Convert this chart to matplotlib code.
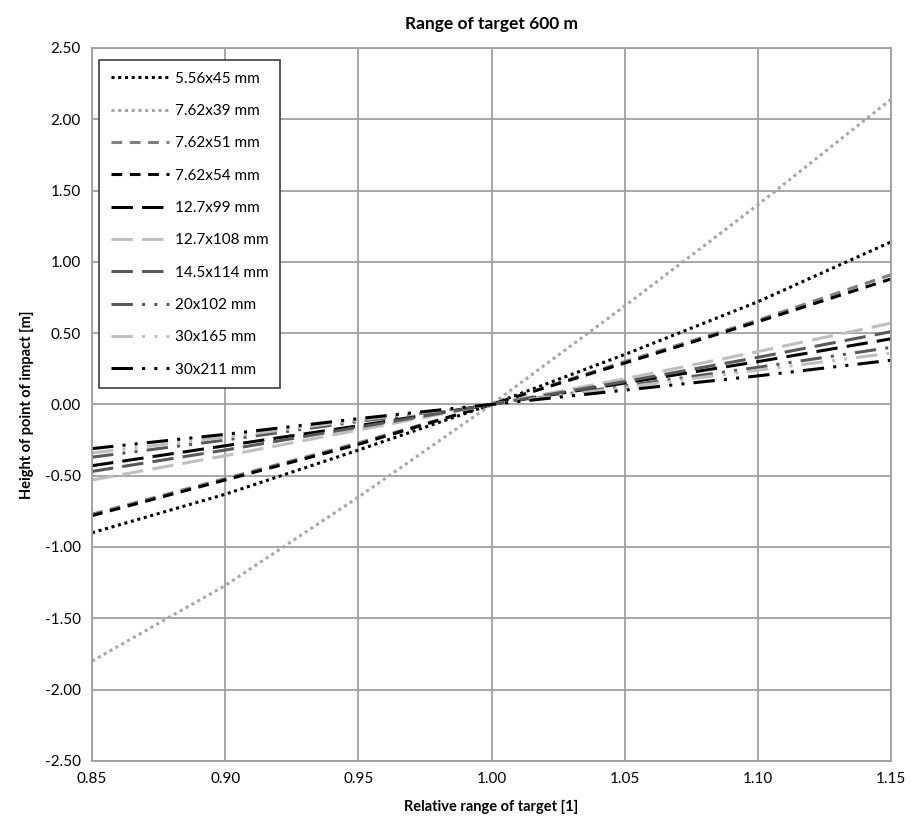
import matplotlib.pyplot as plt

plt.rcParams['font.family'] = ['Lato', 'DejaVu Sans']

# relative range of target
x = [0.85, 0.90, 0.95, 1.00, 1.05, 1.10, 1.15]

# height of point of impact [m]
y_556x45 = [-0.90, -0.63, -0.32, 0.00, 0.35, 0.72, 1.14]
y_762x39 = [-1.80, -1.27, -0.65, 0.00, 0.69, 1.40, 2.14]
y_762x51 = [-0.77, -0.52, -0.27, 0.00, 0.30, 0.59, 0.91]
y_762x54 = [-0.78, -0.53, -0.28, 0.00, 0.29, 0.58, 0.88]
y_127x99 = [-0.43, -0.29, -0.15, 0.00, 0.15, 0.30, 0.46]
y_127x108 = [-0.53, -0.36, -0.18, 0.00, 0.18, 0.37, 0.57]
y_145x114 = [-0.47, -0.32, -0.16, 0.00, 0.16, 0.33, 0.51]
y_20x102 = [-0.37, -0.25, -0.12, 0.00, 0.13, 0.26, 0.40]
y_30x165 = [-0.34, -0.23, -0.11, 0.00, 0.12, 0.24, 0.36]
y_30x211 = [-0.31, -0.21, -0.10, 0.00, 0.10, 0.20, 0.31]

labels = ['5.56x45 mm', '7.62x39 mm', '7.62x51 mm', '7.62x54 mm', '12.7x99 mm',
          '12.7x108 mm', '14.5x114 mm', '20x102 mm', '30x165 mm', '30x211 mm']
series = [y_556x45, y_762x39, y_762x51, y_762x54, y_127x99,
          y_127x108, y_145x114, y_20x102, y_30x165, y_30x211]

dot = (0, (1, 1.2))
dash = (0, (3.5, 2.5))
longdash = (0, (7, 3))
ldashdotdot = (0, (7, 3, 1, 3, 1, 3))
styles = [
    ('#000000', dot),
    ('#a6a6a6', dot),
    ('#7f7f7f', dash),
    ('#000000', dash),
    ('#000000', longdash),
    ('#bfbfbf', longdash),
    ('#595959', longdash),
    ('#595959', ldashdotdot),
    ('#bfbfbf', ldashdotdot),
    ('#000000', ldashdotdot),
]

fig = plt.figure(figsize=(9.12, 8.27), dpi=100)
ax = fig.add_axes([0.101, 0.080, 0.876, 0.862])

for y, lab, (c, ls) in zip(series, labels, styles):
    ax.plot(x, y, color=c, linestyle=ls, linewidth=2.2, label=lab)

ax.set_xlim(0.85, 1.15)
ax.set_ylim(-2.5, 2.5)
ax.set_xticks([0.85, 0.90, 0.95, 1.00, 1.05, 1.10, 1.15])
ax.set_yticks([-2.5, -2.0, -1.5, -1.0, -0.5, 0, 0.5, 1.0, 1.5, 2.0, 2.5])
ax.xaxis.set_major_formatter(plt.FormatStrFormatter('%.2f'))
ax.yaxis.set_major_formatter(plt.FormatStrFormatter('%.2f'))
ax.tick_params(length=0, labelsize=11, pad=8)
ax.grid(True, color='#a0a0a0', linewidth=1.3)
ax.set_axisbelow(True)
for s in ax.spines.values():
    s.set_color('#a0a0a0')
    s.set_linewidth(1.3)

ax.set_title('Range of target 600 m', fontsize=12.5, fontweight='bold', pad=14)
ax.set_xlabel('Relative range of target [1]', fontsize=10.5, fontweight='bold', labelpad=10)
ax.set_ylabel('Height of point of impact [m]', fontsize=10.5, fontweight='bold', labelpad=8)

leg = ax.legend(loc='upper left', bbox_to_anchor=(0.009, 0.983), borderaxespad=0,
                fontsize=11, handlelength=3.8, labelspacing=1.2, borderpad=0.75,
                fancybox=False, framealpha=1, handletextpad=0.4)
leg.get_frame().set_edgecolor('#404040')
leg.get_frame().set_linewidth(1.2)

plt.savefig('out.png')
